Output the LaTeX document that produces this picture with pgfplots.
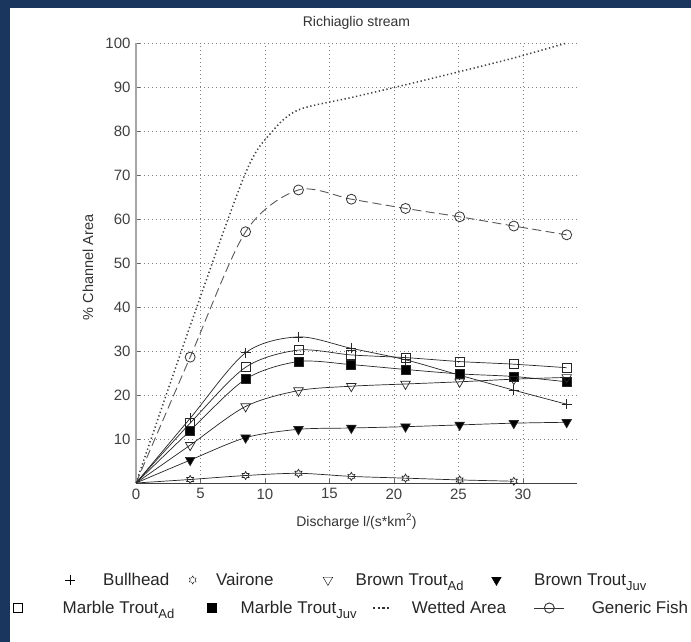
\documentclass[border=0pt]{standalone}
\usepackage{pgfplots}
\pgfplotsset{compat=1.18}
\usepackage{fontspec}
\setmainfont{Liberation Sans}
\definecolor{frame}{HTML}{1A355E}
\pgfdeclareplotmark{hexagram}{%
  \pgfpathmoveto{\pgfpointpolar{90}{\pgfplotmarksize}}%
  \pgfpathlineto{\pgfpointpolar{120}{0.577\pgfplotmarksize}}%
  \pgfpathlineto{\pgfpointpolar{150}{\pgfplotmarksize}}%
  \pgfpathlineto{\pgfpointpolar{180}{0.577\pgfplotmarksize}}%
  \pgfpathlineto{\pgfpointpolar{210}{\pgfplotmarksize}}%
  \pgfpathlineto{\pgfpointpolar{240}{0.577\pgfplotmarksize}}%
  \pgfpathlineto{\pgfpointpolar{270}{\pgfplotmarksize}}%
  \pgfpathlineto{\pgfpointpolar{300}{0.577\pgfplotmarksize}}%
  \pgfpathlineto{\pgfpointpolar{330}{\pgfplotmarksize}}%
  \pgfpathlineto{\pgfpointpolar{0}{0.577\pgfplotmarksize}}%
  \pgfpathlineto{\pgfpointpolar{30}{\pgfplotmarksize}}%
  \pgfpathlineto{\pgfpointpolar{60}{0.577\pgfplotmarksize}}%
  \pgfpathclose
  \pgfusepathqstroke
}
\pgfplotsset{
  legmark/.style={legend image code/.code={\draw[mark repeat=2,mark phase=2,##1] plot coordinates {(0pt,0pt)(11pt,0pt)(22pt,0pt)};}},
  legwet/.style={legend image code/.code={\draw[##1] (0pt,0pt) -- (16pt,0pt);}},
  leggen/.style={legend image code/.code={\draw[mark repeat=2,mark phase=2,##1] plot coordinates {(0pt,0pt)(15pt,0pt)(30pt,0pt)};}},
}
\newcommand{\sub}[1]{\raisebox{-0.6ex}{\fontsize{13}{13}\selectfont #1}}
\begin{document}
\begin{tikzpicture}
\useasboundingbox (0pt,0pt) rectangle (691pt,642pt);
\fill[frame] (0pt,0pt) rectangle (691pt,642pt);
\fill[white] (10pt,0pt) rectangle (691pt,634pt);
\begin{axis}[
  at={(136pt,159pt)}, anchor=south west,
  scale only axis, width=441pt, height=440pt,
  xmin=0, xmax=34.2, ymin=0, ymax=100,
  axis lines*=left,
  xtick={0,5,...,30}, ytick={10,20,...,100},
  grid=major,
  major grid style={black!50, line width=0.6pt, dash pattern=on 0.8pt off 3.2pt},
  x axis line style={black!75, line width=0.9pt},
  y axis line style={black!35, line width=2pt},
  tick style={black!60, line width=0.6pt},
  major tick length=4pt,
  /pgf/number format/assume math mode=true,
  ticklabel style={font=\fontsize{15}{17}\selectfont, text=black!75},
  xticklabel style={yshift=-2pt},
  yticklabel style={xshift=-2pt},
  title={Richiaglio stream},
  title style={at={(axis description cs:0.5,1.023)}, anchor=base, font=\fontsize{14}{16}\selectfont, text=black!80},
  xlabel={Discharge l/(s*km\textsuperscript{2})},
  every axis x label/.style={at={(axis description cs:0.5,-0.0875)}, anchor=center, font=\fontsize{14}{16}\selectfont, text=black!80},
  ylabel={\% Channel Area},
  every axis y label/.style={at={(axis description cs:-0.109,0.49)}, anchor=center, rotate=90, font=\fontsize{14.5}{16}\selectfont, text=black!80},
]
% Wetted Area
\addplot[black!75, line width=1.5pt, dash pattern=on 1.3pt off 2.6pt, smooth] coordinates {
 (0,0)(4.2,35.7)(8.5,70.5)(10.6,80)(12.6,84.8)(16.7,87.6)(20.9,90.5)(25.1,93.5)(29.3,96.6)(33.4,100)};
% Generic Fish
\addplot[black!65, line width=0.9pt, dash pattern=on 9pt off 4.5pt, smooth, mark=o, mark size=5pt, mark options={solid, black!80, line width=0.8pt}, mark indices={2,3,4,5,6,7,8,9}] coordinates {
 (0,0)(4.2,28.6)(8.5,57.1)(12.6,66.6)(16.7,64.5)(20.9,62.4)(25.1,60.5)(29.3,58.4)(33.4,56.4)};
% Bullhead
\addplot[black!85, line width=0.7pt, smooth, mark=+, mark size=5pt, mark indices={2,3,4,5,6,7,8,9}] coordinates {
 (0,0)(4.2,14.7)(8.5,29.6)(12.6,33.2)(16.7,30.6)(20.9,28.0)(25.1,24.5)(29.3,21.1)(33.4,17.9)};
% Marble Trout Ad
\addplot[black!85, line width=0.7pt, smooth, mark=square, mark size=4.5pt, mark indices={2,3,4,5,6,7,8,9}] coordinates {
 (0,0)(4.2,13.6)(8.5,26.3)(12.6,30.2)(16.7,29.1)(20.9,28.5)(25.1,27.6)(29.3,27.0)(33.4,26.2)};
% Marble Trout Juv
\addplot[black!85, line width=0.7pt, smooth, mark=square*, mark size=4.5pt, mark options={fill=black}, mark indices={2,3,4,5,6,7,8,9}] coordinates {
 (0,0)(4.2,11.9)(8.5,23.6)(12.6,27.6)(16.7,26.9)(20.9,25.8)(25.1,24.8)(29.3,24.2)(33.4,23.0)};
% Brown Trout Ad
\addplot[black!85, line width=0.7pt, smooth, mark=triangle, mark size=5.5pt, mark options={rotate=180}, mark indices={2,3,4,5,6,7,8,9}] coordinates {
 (0,0)(4.2,8.6)(8.5,17.4)(12.6,21.0)(16.7,22.0)(20.9,22.5)(25.1,23.0)(29.3,23.6)(33.4,24.0)};
% Brown Trout Juv
\addplot[black!85, line width=0.7pt, smooth, mark=triangle*, mark size=5.5pt, mark options={rotate=180, fill=black}, mark indices={2,3,4,5,6,7,8,9}] coordinates {
 (0,0)(4.2,5.2)(8.5,10.3)(12.6,12.2)(16.7,12.5)(20.9,12.8)(25.1,13.2)(29.3,13.6)(33.4,13.8)};
% Vairone
\addplot[black!85, line width=0.7pt, smooth, mark=hexagram, mark size=4pt, mark indices={2,3,4,5,6,7,8}] coordinates {
 (0,0)(4.2,0.8)(8.5,1.7)(12.6,2.2)(16.7,1.5)(20.9,1.1)(25.1,0.7)(29.3,0.4)};
\end{axis}
% Legend row 1
\begin{axis}[
  at={(0pt,0pt)}, anchor=south west, scale only axis, width=691pt, height=642pt,
  hide axis, xmin=0, xmax=1, ymin=0, ymax=1,
  legend columns=4, legmark,
  legend style={at={(0.0941,0.0966)}, anchor=west, draw=none, fill=none, inner sep=0pt,
    font=\fontsize{17}{20}\selectfont, text=black!85,
    /tikz/column 1/.style={column sep=26pt},
    /tikz/column 2/.style={column sep=0pt},
    /tikz/column 3/.style={column sep=18pt},
    /tikz/column 5/.style={column sep=21pt},
    /tikz/column 7/.style={column sep=31pt}},
]
\addlegendimage{only marks, black, mark=+, mark size=5pt}
\addlegendentry{\makebox[84pt][l]{Bullhead}}
\addlegendimage{only marks, black, mark=hexagram, mark size=4pt}
\addlegendentry{\makebox[105pt][l]{Vairone}}
\addlegendimage{only marks, black, mark=triangle, mark size=5.5pt, mark options={rotate=180}}
\addlegendentry{\makebox[134pt][l]{Brown Trout\sub{Ad}}}
\addlegendimage{only marks, black, mark=triangle*, mark size=5.5pt, mark options={rotate=180, fill=black}}
\addlegendentry{Brown Trout\sub{Juv}}
\end{axis}
% Legend row 2
\begin{axis}[
  at={(0pt,0pt)}, anchor=south west, scale only axis, width=691pt, height=642pt,
  hide axis, xmin=0, xmax=1, ymin=0, ymax=1,
  legend columns=4,
  legend style={at={(0.0195,0.0530)}, anchor=west, draw=none, fill=none, inner sep=0pt,
    font=\fontsize{17}{20}\selectfont, text=black!85,
    /tikz/column 1/.style={column sep=38pt},
    /tikz/column 3/.style={column sep=22pt},
    /tikz/column 5/.style={column sep=20pt},
    /tikz/column 7/.style={column sep=25pt}},
]
\addlegendimage{legmark, only marks, black, mark=square, mark size=4.5pt}
\addlegendentry{\makebox[143pt][l]{Marble Trout\sub{Ad}}}
\addlegendimage{legmark, only marks, black, mark=square*, mark size=4.5pt, mark options={fill=black}}
\addlegendentry{\makebox[129pt][l]{Marble Trout\sub{Juv}}}
\addlegendimage{legwet, black!80, line width=2.2pt, dash pattern=on 2.2pt off 2.6pt}
\addlegendentry{\makebox[120pt][l]{Wetted Area}}
\addlegendimage{leggen, black!80, line width=0.9pt, mark=o, mark size=5pt, mark options={solid}}
\addlegendentry{Generic Fish}
\end{axis}
\end{tikzpicture}
\end{document}
